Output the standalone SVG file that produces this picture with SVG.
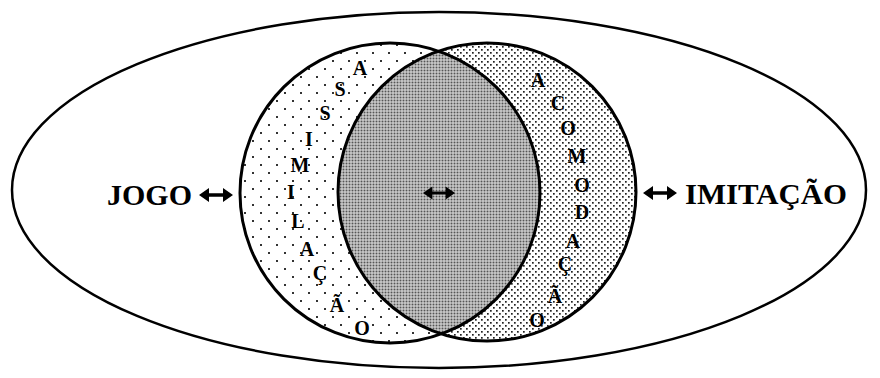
<svg xmlns="http://www.w3.org/2000/svg" xmlns:xlink="http://www.w3.org/1999/xlink" width="880" height="378" viewBox="0 0 880 378">
  <style>
    .ln { fill: none; stroke: #000; stroke-width: 3; }
    .big { font-family: "Liberation Serif", "Times New Roman", serif; font-weight: bold; font-size: 29px; fill: #000; }
    .lt { font-family: "Liberation Serif", "Times New Roman", serif; font-weight: bold; font-size: 20px; fill: #000; text-anchor: middle; }
  </style>
  <defs>
    <pattern id="pSparse" width="16" height="16" patternUnits="userSpaceOnUse">
      <rect width="16" height="16" fill="#fff"/>
      <rect x="4" y="4" width="2" height="2" fill="#333"/>
      <rect x="12" y="12" width="2" height="2" fill="#333"/>
    </pattern>
    <pattern id="pMed" width="6" height="6" patternUnits="userSpaceOnUse">
      <rect width="6" height="6" fill="#fff"/>
      <rect x="1" y="1" width="1.7" height="1.7" fill="#222"/>
      <rect x="4" y="4" width="1.7" height="1.7" fill="#222"/>
    </pattern>
    <pattern id="pDense" width="3" height="3" patternUnits="userSpaceOnUse">
      <rect width="3" height="3" fill="#e6e6e6"/>
      <rect x="0.5" y="0.5" width="2" height="2" fill="#555"/>
    </pattern>
    <clipPath id="clipLeft">
      <circle cx="390" cy="193" r="150"/>
    </clipPath>
    <symbol id="dbl" viewBox="0 0 34 14">
      <path d="M0,7 L10,0 L10,5.3 L24,5.3 L24,0 L34,7 L24,14 L24,8.7 L10,8.7 L10,14 Z" fill="#000"/>
    </symbol>
  </defs>

  <rect width="880" height="378" fill="#fff"/>

  <g id="outer">
    <ellipse cx="439" cy="190" rx="427" ry="178" fill="#fff" stroke="#000" stroke-width="2.5"/>
  </g>

  <g id="left-circle">
    <circle cx="390" cy="193" r="150" fill="url(#pSparse)"/>
  </g>
  <g id="right-circle">
    <circle cx="487" cy="192" r="149" fill="url(#pMed)"/>
  </g>
  <g id="lens">
    <circle cx="487" cy="192" r="149" fill="url(#pDense)" clip-path="url(#clipLeft)"/>
    <circle cx="390" cy="193" r="150" class="ln"/>
    <circle cx="487" cy="192" r="149" class="ln"/>
  </g>

  <g id="assimilacao">
    <text class="lt" x="360" y="75">A</text>
    <text class="lt" x="340" y="96">S</text>
    <text class="lt" x="325" y="120">S</text>
    <text class="lt" x="309" y="146">I</text>
    <text class="lt" x="300" y="172">M</text>
    <text class="lt" x="291" y="199">I</text>
    <text class="lt" x="298" y="228">L</text>
    <text class="lt" x="307" y="256">A</text>
    <text class="lt" x="320" y="280">Ç</text>
    <text class="lt" x="337" y="312">Ã</text>
    <text class="lt" x="362" y="335">O</text>
  </g>

  <g id="acomodacao">
    <text class="lt" x="538" y="87">A</text>
    <text class="lt" x="558" y="110">C</text>
    <text class="lt" x="568" y="135">O</text>
    <text class="lt" x="577" y="163">M</text>
    <text class="lt" x="582" y="192">O</text>
    <text class="lt" x="582" y="219">D</text>
    <text class="lt" x="573" y="248">A</text>
    <text class="lt" x="565" y="271">Ç</text>
    <text class="lt" x="555" y="303">Ã</text>
    <text class="lt" x="537" y="327">O</text>
  </g>

  <g id="jogo">
    <text class="big" x="107" y="205" textLength="85" lengthAdjust="spacingAndGlyphs">JOGO</text>
  </g>
  <g id="imitacao">
    <text class="big" x="685" y="204" textLength="162" lengthAdjust="spacingAndGlyphs">IMITAÇÃO</text>
  </g>

  <g id="connectors">
    <use xlink:href="#dbl" x="199" y="188" width="34" height="14"/>
    <use xlink:href="#dbl" x="423" y="186" width="32" height="14"/>
    <use xlink:href="#dbl" x="643" y="186" width="34" height="14"/>
  </g>
</svg>
